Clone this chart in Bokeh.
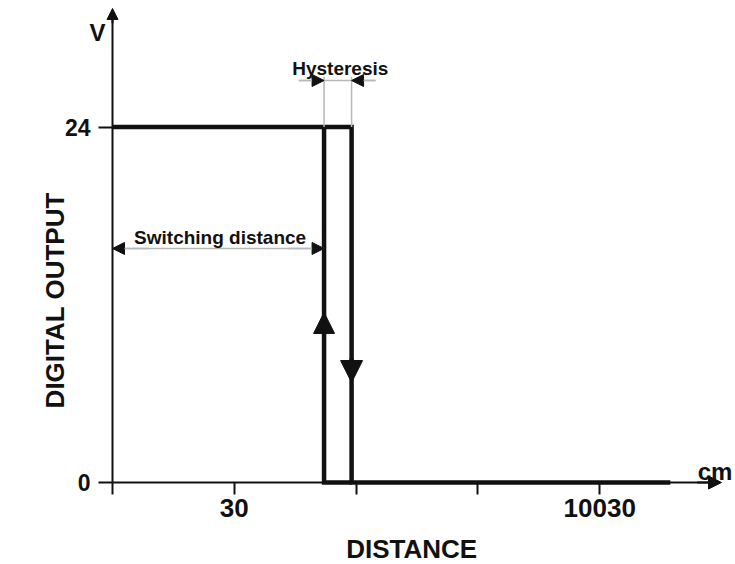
import math
from bokeh.plotting import figure
from bokeh.models import LinearAxis, FixedTicker, Range1d, Arrow, NormalHead, Label
from bokeh.embed import file_html
from bokeh.resources import INLINE

# ---------------- data ----------------
x_ticks = [0, 1, 2, 3, 4]
x_tick_labels = {0: "", 1: "30", 2: "", 3: "", 4: "10030"}
y_ticks = [0, 24]
y_tick_labels = {0: "0", 24: "24"}

v_high = 24            # output level (V)
switch_on = 1.737      # switching point, approaching
switch_off = 1.963     # switching point, receding (hysteresis)
trace_end = 4.58       # end of the drawn output trace

out_x = [0.0, switch_off, switch_off, trace_end]
out_y = [v_high, v_high, 0, 0]
on_x = [switch_on, switch_on, switch_off]
on_y = [v_high, 0, 0]

# ---------------- layout ----------------
W, H = 735, 564
X0_PX, Y0_PX = 112.0, 482.0      # where the origin sits on the canvas
PX_PER_X, PX_PER_Y = 121.8, 14.8125
x_rng = Range1d(-X0_PX / PX_PER_X, (W - X0_PX) / PX_PER_X)
y_rng = Range1d(-(H - Y0_PX) / PX_PER_Y, Y0_PX / PX_PER_Y)
x_tip = 5.0
y_tip = 32.0

FONT = "Liberation Sans"
BLACK = "#111111"
GREY = "#b8b8b8"

p = figure(width=W, height=H, x_range=x_rng, y_range=y_rng,
           x_axis_type=None, y_axis_type=None, toolbar_location=None,
           output_backend="svg", title=None, min_border=0)
p.outline_line_color = None
p.background_fill_color = "white"
p.border_fill_color = "white"

xaxis = LinearAxis(ticker=FixedTicker(ticks=x_ticks, minor_ticks=[]),
                   major_label_overrides=x_tick_labels, fixed_location=0,
                   bounds=(0, x_tip - 0.1))
yaxis = LinearAxis(ticker=FixedTicker(ticks=y_ticks, minor_ticks=[]),
                   major_label_overrides=y_tick_labels, fixed_location=0,
                   bounds=(0, y_tip - 0.5))
for ax in (xaxis, yaxis):
    ax.axis_line_color = BLACK
    ax.axis_line_width = 2
    ax.major_tick_line_color = BLACK
    ax.major_tick_line_width = 2
    ax.major_tick_in = 0
    ax.minor_tick_line_color = None
    ax.major_label_text_font = FONT
    ax.major_label_text_font_style = "bold"
    ax.major_label_text_color = BLACK
xaxis.major_tick_out = 12
xaxis.major_label_standoff = 4
xaxis.major_label_text_font_size = "26px"
yaxis.major_tick_out = 14
yaxis.major_label_standoff = 8
yaxis.major_label_text_font_size = "23px"
p.add_layout(xaxis, "below")
p.add_layout(yaxis, "left")

# axis arrow heads
p.add_layout(Arrow(x_start=x_tip - 0.2, y_start=0, x_end=x_tip, y_end=0,
                   line_color=BLACK, line_width=2,
                   end=NormalHead(size=13, fill_color=BLACK, line_color=BLACK, line_width=1)))
p.add_layout(Arrow(x_start=0, y_start=y_tip - 1, x_end=0, y_end=y_tip,
                   line_color=BLACK, line_width=2,
                   end=NormalHead(size=11, fill_color=BLACK, line_color=BLACK, line_width=1)))

# output trace
p.line(out_x, out_y, line_color=BLACK, line_width=4.5, line_join="miter")
p.line(on_x, on_y, line_color=BLACK, line_width=4.5, line_join="miter")

# direction arrows on the switching edges
p.add_layout(Arrow(x_start=switch_on, y_start=10.0, x_end=switch_on, y_end=11.48,
                   line_color=BLACK, line_width=4.5,
                   end=NormalHead(size=21, fill_color=BLACK, line_color=BLACK, line_width=1)))
p.add_layout(Arrow(x_start=switch_off, y_start=8.37, x_end=switch_off, y_end=6.75,
                   line_color=BLACK, line_width=4.5,
                   end=NormalHead(size=22, fill_color=BLACK, line_color=BLACK, line_width=1)))

# dimension guides
sd_level = 15.8
hy_level = 27.14
hy_top = 27.4
p.segment(x0=[0, 1.53, switch_on, switch_off], y0=[sd_level, hy_level, v_high, v_high],
          x1=[switch_on, 2.16, switch_on, switch_off], y1=[sd_level, hy_level, hy_top, hy_top],
          line_color=GREY, line_width=1.5)
for xs, xe, yl in [(0.3, 0.0, sd_level), (switch_on - 0.3, switch_on, sd_level),
                   (1.53, switch_on, hy_level), (2.16, switch_off, hy_level)]:
    p.add_layout(Arrow(x_start=xs, y_start=yl, x_end=xe, y_end=yl,
                       line_color=GREY, line_width=1.5,
                       end=NormalHead(size=12, fill_color=BLACK, line_color=BLACK, line_width=1)))

def lab(x, y, text, size, align="center", angle=0.0):
    p.add_layout(Label(x=x, y=y, text=text, text_font=FONT, text_font_style="bold",
                       text_font_size=size, text_color=BLACK, text_align=align,
                       text_baseline="alphabetic", angle=angle))

lab((switch_on + switch_off) / 2 + 0.02, 27.95, "Hysteresis", "19px")
lab(switch_on / 2 + 0.015, 16.54, "Switching distance", "19px")
lab(-0.057, 30.38, "V", "24px", align="right")
lab(4.805, 0.75, "cm", "24px", align="left")
lab(2.456, -4.46, "DISTANCE", "26px")
lab(-0.468, 12.3, "DIGITAL OUTPUT", "26px", angle=math.pi / 2)

open("out.html", "w").write(file_html(p, INLINE))
